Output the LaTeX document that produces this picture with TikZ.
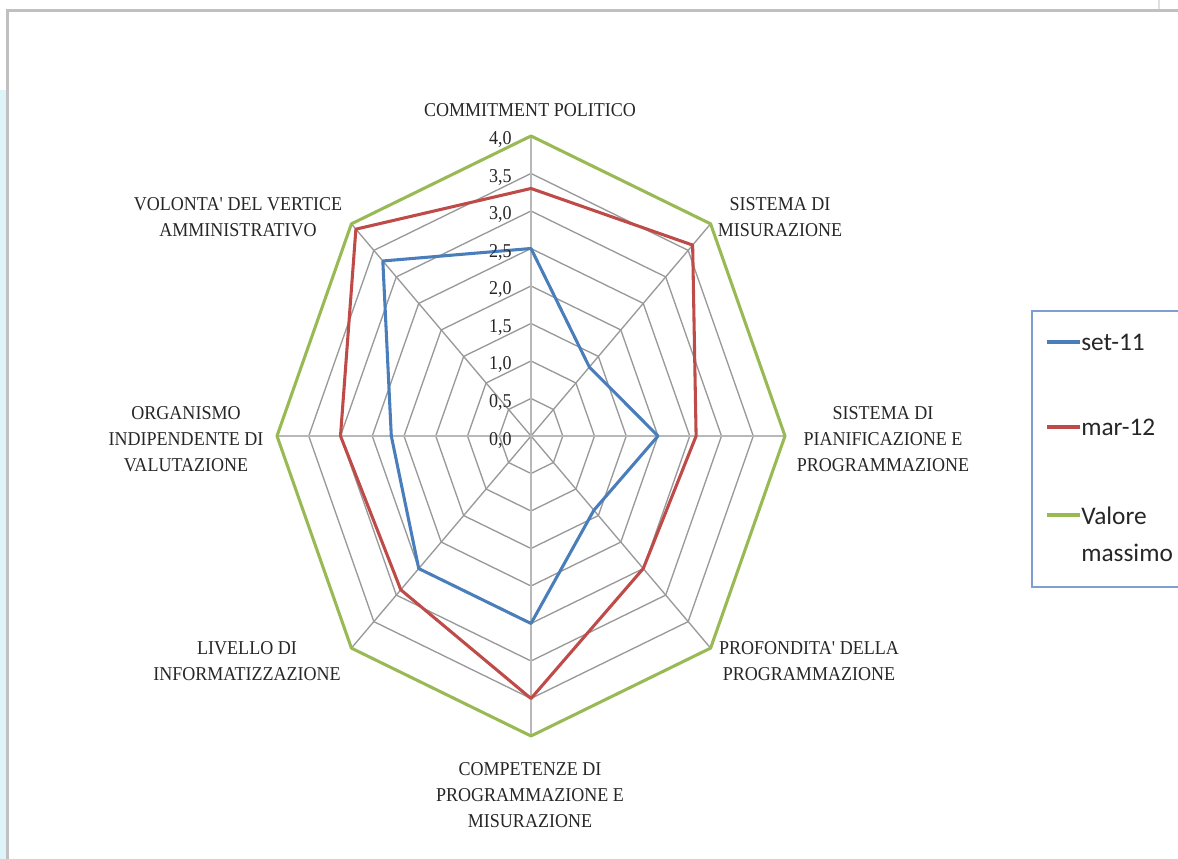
\documentclass[tikz,border=0pt]{standalone}
\usepackage{fontspec}
\newfontfamily\catfont[FakeStretch=0.92]{Liberation Serif}
\newfontfamily\legfont{Carlito}
\definecolor{setblue}{RGB}{74,126,187}
\definecolor{marred}{RGB}{190,75,72}
\definecolor{maxgreen}{RGB}{152,185,84}
\definecolor{framegray}{RGB}{192,192,192}
\definecolor{panelblue}{RGB}{222,244,248}
\definecolor{legendframe}{RGB}{125,160,208}
\tikzset{
  grid line/.style={draw=black!40, line width=1pt},
  main axis/.style={draw=black!28, line width=2.2pt},
  series/.style={line width=2.3pt, line join=round},
  catlabel/.style={font=\catfont\fontsize{14.7}{19.5}\selectfont, align=center, text=black!85, inner sep=0pt},
  ticklabel/.style={font=\catfont\fontsize{14.7}{17}\selectfont, text=black!85, inner sep=0pt, anchor=east},
  legtext/.style={font=\legfont\fontsize{19}{27.75}\selectfont, text=black!85, inner sep=0pt, anchor=west, align=left},
}

\begin{document}
\begin{tikzpicture}[x=0.75pt,y=0.75pt]
\useasboundingbox (0,0) rectangle (1178,859);
% page frame
\fill[panelblue] (0,0) rectangle (6,769);
\draw[framegray, line width=2.2pt] (7.5,0) -- (7.5,848.5) -- (1178,848.5);
\draw[black!12, line width=0.8pt] (1159,850) -- (1159,859);

\begin{scope}[shift={(531,423)}, xscale=63.5, yscale=75]
  % web
  \foreach \r in {0.5,1,...,4}
    \draw[grid line] (0:\r) -- (45:\r) -- (90:\r) -- (135:\r) -- (180:\r) -- (225:\r) -- (270:\r) -- (315:\r) -- cycle;
  \foreach \a in {45,135,225,315}
    \draw[grid line] (0,0) -- (\a:4);
  \draw[main axis] (0,-4) -- (0,4);
  \draw[main axis] (-4,0) -- (4,0);
  % series
  \draw[series, maxgreen] (90:4) -- (45:4) -- (0:4) -- (-45:4) -- (-90:4) -- (-135:4) -- (180:4) -- (135:4) -- cycle;
  \draw[series, marred] (90:3.3) -- (45:3.6) -- (0:2.6) -- (-45:2.5) -- (-90:3.5) -- (-135:2.9) -- (180:3.0) -- (135:3.9) -- cycle;
  \draw[series, setblue] (90:2.5) -- (45:1.3) -- (0:2.0) -- (-45:1.4) -- (-90:2.5) -- (-135:2.5) -- (180:2.2) -- (135:3.3) -- cycle;
\end{scope}

% scale
\foreach \v/\t [count=\i] in {0/{0,0},0.5/{0,5},1/{1,0},1.5/{1,5},2/{2,0},2.5/{2,5},3/{3,0},3.5/{3,5},4/{4,0}}
  \node[ticklabel] (tick\i) at (512,{419+75*\v}) {\t};

% categories
\node[catlabel] (catcommit) at (530,749) {COMMITMENT POLITICO};
\node[catlabel] (catmisur) at (780,641.5) {SISTEMA DI\\MISURAZIONE};
\node[catlabel] (catpianif) at (883,420) {SISTEMA DI\\PIANIFICAZIONE E\\PROGRAMMAZIONE};
\node[catlabel] (catprofond) at (809,197.5) {PROFONDITA\textquotesingle{} DELLA\\PROGRAMMAZIONE};
\node[catlabel] (catcompet) at (530,64) {COMPETENZE DI\\PROGRAMMAZIONE E\\MISURAZIONE};
\node[catlabel] (catinform) at (247,197.5) {LIVELLO DI\\INFORMATIZZAZIONE};
\node[catlabel] (catoiv) at (186,420) {ORGANISMO\\INDIPENDENTE DI\\VALUTAZIONE};
\node[catlabel] (catvertice) at (238,641.5) {VOLONTA\textquotesingle{} DEL VERTICE\\AMMINISTRATIVO};

% legend
\draw[legendframe, line width=1.2pt] (1032,272) rectangle (1190,548);
\draw[series, setblue] (1047,517) -- (1080,517);
\draw[series, marred] (1047,432) -- (1080,432);
\draw[series, maxgreen] (1047,344) -- (1080,344);
\node[legtext] (legset) at (1081,517) {set-11};
\node[legtext] (legmar) at (1081,432) {mar-12};
\node[legtext] (legmax) at (1081,325) {Valore\\massimo};
\end{tikzpicture}
\end{document}
